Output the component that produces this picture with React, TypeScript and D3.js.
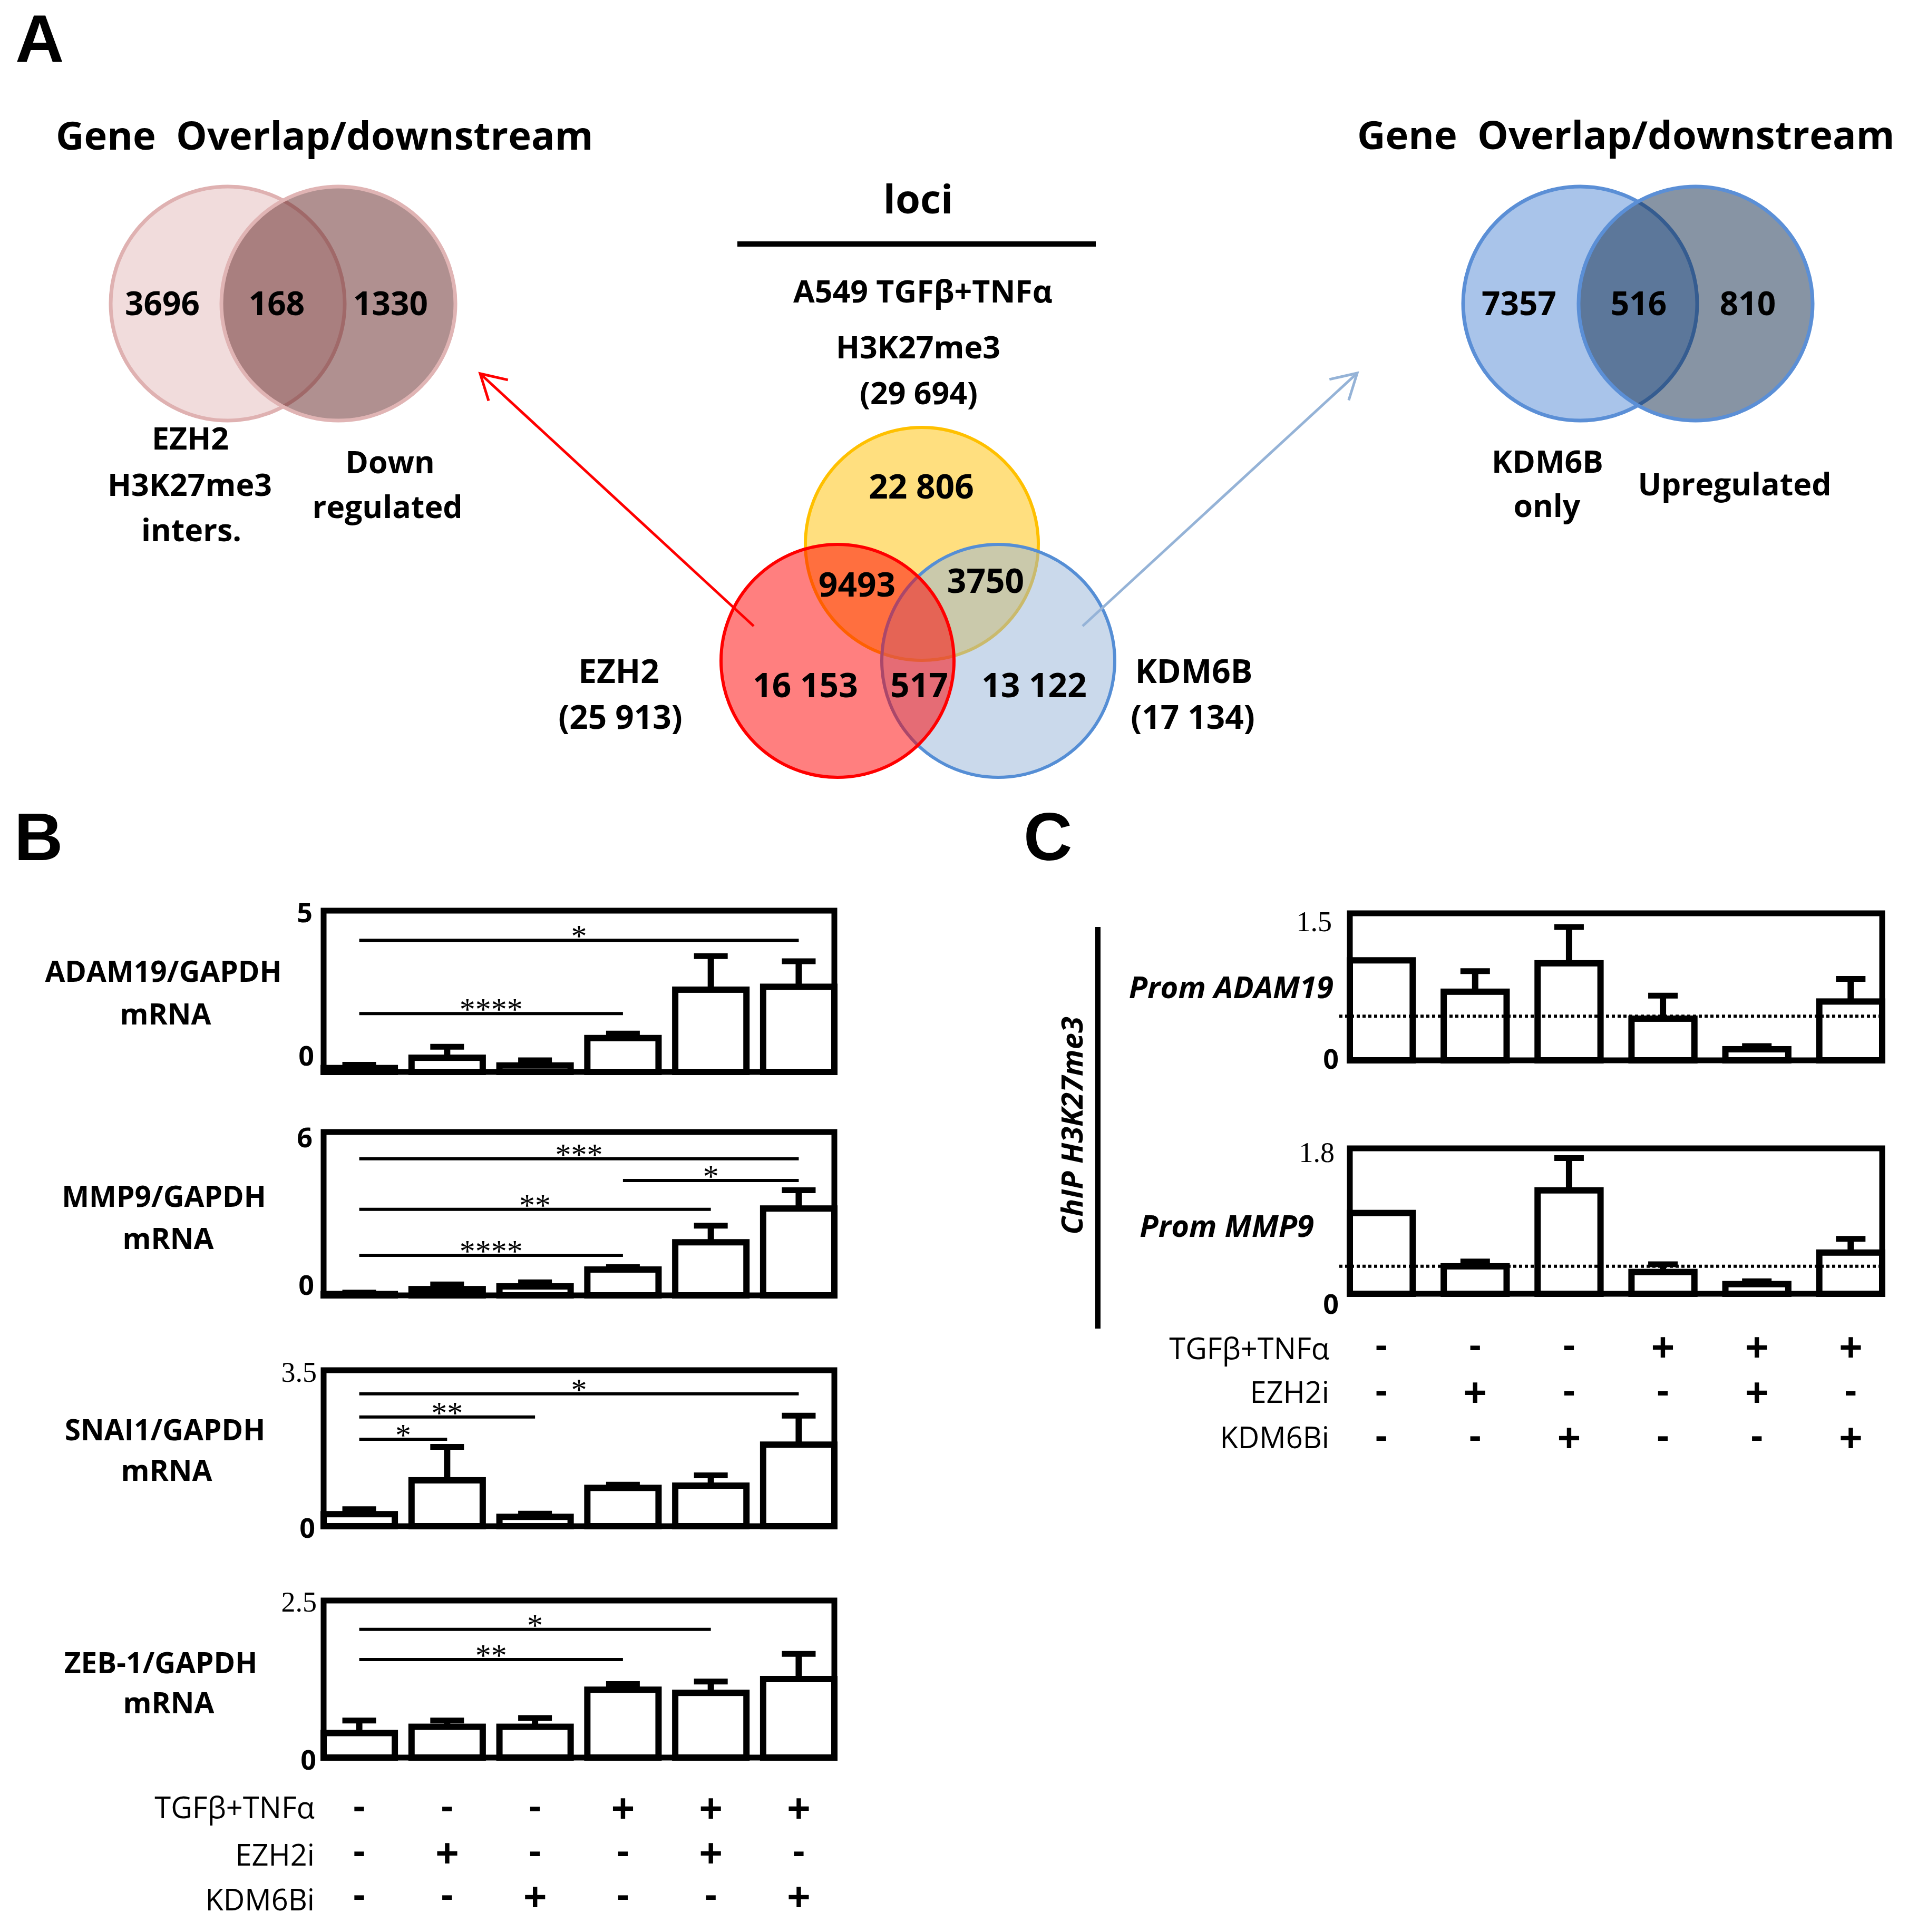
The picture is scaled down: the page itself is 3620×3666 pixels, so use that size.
import React from 'react';
import * as d3 from 'd3';

// ---------- data ----------
const groups = ['Ctrl', 'EZH2i', 'KDM6Bi', 'TT', 'TT+EZH2i', 'TT+KDM6Bi'];
const rowLabels = ['TGFβ+TNFα', 'EZH2i', 'KDM6Bi'];
const tgfRow = ['-', '-', '-', '+', '+', '+'];
const ezh2Row = ['-', '+', '-', '-', '+', '-'];
const kdmRow = ['-', '-', '+', '-', '-', '+'];

// Panel B (mRNA / GAPDH)
const adam19Mean = [0.12, 0.44, 0.2, 1.05, 2.55, 2.64];
const adam19Sem = [0.1, 0.34, 0.16, 0.14, 1.04, 0.79];
const adam19Ticks = ['0', '5'];
const adam19Sig = [
  { from: 0, to: 5, y: 4.08, label: '*' },
  { from: 0, to: 3, y: 1.81, label: '****' },
];

const mmp9Mean = [0.05, 0.23, 0.33, 0.95, 1.95, 3.19];
const mmp9Sem = [0.05, 0.17, 0.15, 0.09, 0.61, 0.67];
const mmp9Ticks = ['0', '6'];
const mmp9Sig = [
  { from: 0, to: 5, y: 5.02, label: '***' },
  { from: 3, to: 5, y: 4.22, label: '*' },
  { from: 0, to: 4, y: 3.16, label: '**' },
  { from: 0, to: 3, y: 1.47, label: '****' },
];

const snai1Mean = [0.27, 1.03, 0.21, 0.86, 0.91, 1.83];
const snai1Sem = [0.11, 0.75, 0.07, 0.07, 0.23, 0.65];
const snai1Ticks = ['0', '3.5'];
const snai1Sig = [
  { from: 0, to: 5, y: 2.97, label: '*' },
  { from: 0, to: 2, y: 2.45, label: '**' },
  { from: 0, to: 1, y: 1.95, label: '*' },
];

const zeb1Mean = [0.39, 0.49, 0.49, 1.08, 1.03, 1.25];
const zeb1Sem = [0.2, 0.1, 0.14, 0.09, 0.18, 0.4];
const zeb1Ticks = ['0', '2.5'];
const zeb1Sig = [
  { from: 0, to: 4, y: 2.04, label: '*' },
  { from: 0, to: 3, y: 1.56, label: '**' },
];

// Panel C (ChIP H3K27me3)
const chipAdam19Mean = [1.02, 0.7, 0.99, 0.425, 0.113, 0.6];
const chipAdam19Sem = [0, 0.21, 0.37, 0.235, 0.032, 0.23];
const chipAdam19Ticks = ['0', '1.5'];
const chipAdam19Ref = 0.45;

const chipMmp9Mean = [1.0, 0.34, 1.28, 0.27, 0.12, 0.51];
const chipMmp9Sem = [0, 0.06, 0.4, 0.095, 0.035, 0.17];
const chipMmp9Ticks = ['0', '1.8'];
const chipMmp9Ref = 0.34;

// Venn counts
const vennLeftCounts = ['3696', '168', '1330'];
const vennCenterCounts = ['22 806', '9493', '3750', '16 153', '517', '13 122'];
const vennRightCounts = ['7357', '516', '810'];

// ---------- style ----------
const SANS = "'Open Sans', 'DejaVu Sans', sans-serif";
const SERIF = "'Liberation Serif', 'DejaVu Serif', serif";
const LETTER = "'Liberation Sans', Arial, sans-serif";

type Sig = { from: number; to: number; y: number; label: string };

type PanelCfg = {
  x0: number; x1: number; yTop: number; yBottom: number; pad: number; capW: number;
  topTick: { x: number; y: number; serif: boolean };
  zeroTick: { x: number; y: number };
};

function BarPanel(props: {
  cfg: PanelCfg; means: number[]; sems: number[]; ticks: string[]; sigs?: Sig[]; refLine?: number;
}) {
  const { cfg, means, sems, ticks, sigs = [], refLine } = props;
  const max = parseFloat(ticks[ticks.length - 1]);
  const x = d3.scaleBand<string>().domain(groups).range([cfg.x0, cfg.x1]).paddingInner(cfg.pad).paddingOuter(0);
  const y = d3.scaleLinear().domain([0, max]).range([cfg.yBottom, cfg.yTop]);
  const bw = x.bandwidth();
  return (
    <g>
      {groups.map((g, i) => (
        <rect key={'b' + i} x={x(g)} y={y(means[i])} width={bw} height={y(0) - y(means[i])}
          fill="#fff" stroke="#000" strokeWidth={12} />
      ))}
      {groups.map((g, i) => {
        if (!sems[i]) return null;
        const cx = (x(g) as number) + bw / 2;
        const yt = y(means[i] + sems[i]);
        return (
          <g key={'e' + i}>
            <line x1={cx} x2={cx} y1={y(means[i])} y2={yt} stroke="#000" strokeWidth={12} />
            <line x1={cx - cfg.capW / 2} x2={cx + cfg.capW / 2} y1={yt} y2={yt} stroke="#000" strokeWidth={11} />
          </g>
        );
      })}
      {refLine !== undefined && (
        <line x1={cfg.x0 - 20} x2={cfg.x1} y1={y(refLine)} y2={y(refLine)} stroke="#000" strokeWidth={6} strokeDasharray="6 5" />
      )}
      {sigs.map((s, i) => {
        const xa = (x(groups[s.from]) as number) + bw / 2;
        const xb = (x(groups[s.to]) as number) + bw / 2;
        return (
          <g key={'s' + i}>
            <line x1={xa} x2={xb} y1={y(s.y)} y2={y(s.y)} stroke="#000" strokeWidth={6} />
            <text x={(xa + xb) / 2} y={y(s.y) + 12} textAnchor="middle" fontFamily={SERIF} fontSize={60}>{s.label}</text>
          </g>
        );
      })}
      <rect x={cfg.x0} y={cfg.yTop} width={cfg.x1 - cfg.x0} height={cfg.yBottom - cfg.yTop}
        fill="none" stroke="#000" strokeWidth={11} />
      <text x={cfg.topTick.x} y={cfg.topTick.y} textAnchor="end"
        fontFamily={cfg.topTick.serif ? SERIF : SANS} fontWeight={cfg.topTick.serif ? 400 : 700}
        fontSize={cfg.topTick.serif ? 54 : 52}>{ticks[ticks.length - 1]}</text>
      <text x={cfg.zeroTick.x} y={cfg.zeroTick.y} textAnchor="end" fontFamily={SANS} fontWeight={700} fontSize={52}>{ticks[0]}</text>
    </g>
  );
}

function ConditionTable(props: { x0: number; x1: number; pad: number; labelX: number; labelY: number[]; markY: number[] }) {
  const { x0, x1, pad, labelX, labelY, markY } = props;
  const x = d3.scaleBand<string>().domain(groups).range([x0, x1]).paddingInner(pad).paddingOuter(0);
  const rows = [tgfRow, ezh2Row, kdmRow];
  return (
    <g>
      {rowLabels.map((l, r) => (
        <text key={'l' + r} x={labelX} y={labelY[r]} textAnchor="end" fontFamily={SANS} fontSize={56}>{l}</text>
      ))}
      {rows.map((row, r) =>
        row.map((m, i) => (
          <text key={r + '-' + i} x={(x(groups[i]) as number) + x.bandwidth() / 2}
            y={markY[r] + (m === '+' ? 25 : 19)} textAnchor="middle" fontFamily={LETTER} fontWeight={700}
            fontSize={m === '+' ? 76 : 72}>{m}</text>
        ))
      )}
    </g>
  );
}

const B_X0 = 614, B_X1 = 1583, B_PAD = 0.19;
const cfgB1: PanelCfg = { x0: B_X0, x1: B_X1, yTop: 1728, yBottom: 2034, pad: B_PAD, capW: 64, topTick: { x: 593, y: 1750, serif: false }, zeroTick: { x: 596, y: 2022 } };
const cfgB2: PanelCfg = { x0: B_X0, x1: B_X1, yTop: 2148, yBottom: 2458, pad: B_PAD, capW: 64, topTick: { x: 593, y: 2177, serif: false }, zeroTick: { x: 596, y: 2457 } };
const cfgB3: PanelCfg = { x0: B_X0, x1: B_X1, yTop: 2600, yBottom: 2896, pad: B_PAD, capW: 64, topTick: { x: 601, y: 2622, serif: true }, zeroTick: { x: 598, y: 2918 } };
const cfgB4: PanelCfg = { x0: B_X0, x1: B_X1, yTop: 3037, yBottom: 3335, pad: B_PAD, capW: 64, topTick: { x: 601, y: 3058, serif: true }, zeroTick: { x: 600, y: 3358 } };
const C_X0 = 2561, C_X1 = 3571, C_PAD = 0.33;
const cfgC1: PanelCfg = { x0: C_X0, x1: C_X1, yTop: 1733, yBottom: 2012, pad: C_PAD, capW: 56, topTick: { x: 2527, y: 1767, serif: true }, zeroTick: { x: 2540, y: 2028 } };
const cfgC2: PanelCfg = { x0: C_X0, x1: C_X1, yTop: 2179, yBottom: 2455, pad: C_PAD, capW: 56, topTick: { x: 2532, y: 2205, serif: true }, zeroTick: { x: 2540, y: 2493 } };

function T(p: { x: number; y: number; s: number; t: string; a?: string; w?: number; it?: boolean; f?: string }) {
  return (
    <text x={p.x} y={p.y} fontSize={p.s} textAnchor={p.a || 'middle'} fontFamily={p.f || SANS}
      fontWeight={p.w === undefined ? 700 : p.w} fontStyle={p.it ? 'italic' : 'normal'}
      style={{ whiteSpace: 'pre' }}>{p.t}</text>
  );
}

function Arrow(props: { x1: number; y1: number; x2: number; y2: number; color: string }) {
  const { x1, y1, x2, y2, color } = props;
  const ang = Math.atan2(y1 - y2, x1 - x2);
  const L = 54, da = (30 * Math.PI) / 180;
  const a1 = [x2 + L * Math.cos(ang + da), y2 + L * Math.sin(ang + da)];
  const a2 = [x2 + L * Math.cos(ang - da), y2 + L * Math.sin(ang - da)];
  return (
    <g stroke={color} strokeWidth={5} fill="none">
      <line x1={x1} y1={y1} x2={x2} y2={y2} />
      <path d={`M${a1[0]},${a1[1]}L${x2},${y2}L${a2[0]},${a2[1]}`} />
    </g>
  );
}

export default function App() {
  return (
    <svg width={3620} height={3666} viewBox="0 0 3620 3666" style={{ position: 'absolute', left: 0, top: 0, background: '#fff' }}>
      <rect x={0} y={0} width={3620} height={3666} fill="#fff" />
      {/* panel letters */}
      <T x={29} y={118} s={128} t="A" a="start" f={LETTER} />
      <T x={27} y={1632} s={128} t="B" a="start" f={LETTER} />
      <T x={1942} y={1632} s={128} t="C" a="start" f={LETTER} />

      {/* ---- Left Venn ---- */}
      <T x={106} y={284} s={74} t="Gene  Overlap/downstream" a="start" />
      <circle cx={432} cy={576} r={222} fill="#f1dcdc" stroke="#dfb1b1" strokeWidth={7} />
      <circle cx={642} cy={576} r={222} fill="rgba(97,33,33,0.5)" stroke="#e0b4b4" strokeWidth={7} />
      <T x={308} y={598} s={62} t={vennLeftCounts[0]} />
      <T x={525} y={598} s={62} t={vennLeftCounts[1]} />
      <T x={741} y={598} s={62} t={vennLeftCounts[2]} />
      <T x={361} y={853} s={59} t="EZH2" />
      <T x={360} y={941} s={59} t="H3K27me3" />
      <T x={363} y={1027} s={59} t="inters." />
      <T x={740} y={898} s={59} t="Down" />
      <T x={735} y={983} s={59} t="regulated" />

      {/* ---- Center Venn ---- */}
      <T x={1742} y={405} s={76} t="loci" />
      <line x1={1399} x2={2079} y1={463} y2={463} stroke="#000" strokeWidth={10} />
      <T x={1751} y={574} s={59} t="A549 TGFβ+TNFα" />
      <T x={1742} y={680} s={59} t="H3K27me3" />
      <T x={1743} y={767} s={59} t="(29 694)" />
      <circle cx={1749} cy={1032} r={221} fill="rgba(255,192,0,0.5)" stroke="#ffc000" strokeWidth={6} />
      <circle cx={1894} cy={1254} r={221} fill="rgba(149,179,215,0.5)" stroke="#558ed5" strokeWidth={6} />
      <circle cx={1589} cy={1254} r={221} fill="rgba(255,0,0,0.5)" stroke="#ff0000" strokeWidth={6} />
      <T x={1748} y={946} s={64} t={vennCenterCounts[0]} />
      <T x={1626} y={1132} s={64} t={vennCenterCounts[1]} />
      <T x={1870} y={1125} s={64} t={vennCenterCounts[2]} />
      <T x={1528} y={1323} s={64} t={vennCenterCounts[3]} />
      <T x={1744} y={1323} s={64} t={vennCenterCounts[4]} />
      <T x={1962} y={1323} s={64} t={vennCenterCounts[5]} />
      <T x={1174} y={1296} s={62} t="EZH2" />
      <T x={1177} y={1383} s={62} t="(25 913)" />
      <T x={2265} y={1296} s={62} t="KDM6B" />
      <T x={2263} y={1383} s={62} t="(17 134)" />
      <Arrow x1={1430} y1={1188} x2={911} y2={709} color="#ff0000" />
      <Arrow x1={2054} y1={1188} x2={2575} y2={708} color="#95b3d7" />

      {/* ---- Right Venn ---- */}
      <T x={2575} y={283} s={74} t="Gene  Overlap/downstream" a="start" />
      <circle cx={2998} cy={576} r={222} fill="#a9c4ea" stroke="#5b8fd6" strokeWidth={7} />
      <circle cx={3217} cy={576} r={222} fill="rgba(15,42,74,0.5)" stroke="#5b8fd6" strokeWidth={7} />
      <T x={2882} y={598} s={62} t={vennRightCounts[0]} />
      <T x={3109} y={598} s={62} t={vennRightCounts[1]} />
      <T x={3316} y={598} s={62} t={vennRightCounts[2]} />
      <T x={2936} y={897} s={59} t="KDM6B" />
      <T x={2935} y={981} s={59} t="only" />
      <T x={3291} y={940} s={59} t="Upregulated" />

      {/* ---- Panel B ---- */}
      <BarPanel cfg={cfgB1} means={adam19Mean} sems={adam19Sem} ticks={adam19Ticks} sigs={adam19Sig} />
      <BarPanel cfg={cfgB2} means={mmp9Mean} sems={mmp9Sem} ticks={mmp9Ticks} sigs={mmp9Sig} />
      <BarPanel cfg={cfgB3} means={snai1Mean} sems={snai1Sem} ticks={snai1Ticks} sigs={snai1Sig} />
      <BarPanel cfg={cfgB4} means={zeb1Mean} sems={zeb1Sem} ticks={zeb1Ticks} sigs={zeb1Sig} />
      <T x={310} y={1863} s={55} t="ADAM19/GAPDH" />
      <T x={314} y={1944} s={55} t="mRNA" />
      <T x={311} y={2290} s={55} t="MMP9/GAPDH" />
      <T x={319} y={2370} s={55} t="mRNA" />
      <T x={313} y={2733} s={55} t="SNAI1/GAPDH" />
      <T x={316} y={2810} s={55} t="mRNA" />
      <T x={305} y={3175} s={55} t="ZEB-1/GAPDH" />
      <T x={320} y={3251} s={55} t="mRNA" />
      <ConditionTable x0={B_X0} x1={B_X1} pad={B_PAD} labelX={597} labelY={[3450, 3540, 3625]} markY={[3432, 3517, 3600]} />

      {/* ---- Panel C ---- */}
      <BarPanel cfg={cfgC1} means={chipAdam19Mean} sems={chipAdam19Sem} ticks={chipAdam19Ticks} refLine={chipAdam19Ref} />
      <BarPanel cfg={cfgC2} means={chipMmp9Mean} sems={chipMmp9Sem} ticks={chipMmp9Ticks} refLine={chipMmp9Ref} />
      <T x={2530} y={1894} s={58} t="Prom ADAM19" a="end" it />
      <T x={2493} y={2347} s={58} t="Prom MMP9" a="end" it />
      <line x1={2083} x2={2083} y1={1759} y2={2521} stroke="#000" strokeWidth={10} />
      <g transform="translate(2054,2136) rotate(-90)">
        <T x={0} y={0} s={56} t="ChIP H3K27me3" it />
      </g>
      <ConditionTable x0={C_X0} x1={C_X1} pad={C_PAD} labelX={2522} labelY={[2579, 2662, 2748]} markY={[2557, 2643, 2729]} />
    </svg>
  );
}
